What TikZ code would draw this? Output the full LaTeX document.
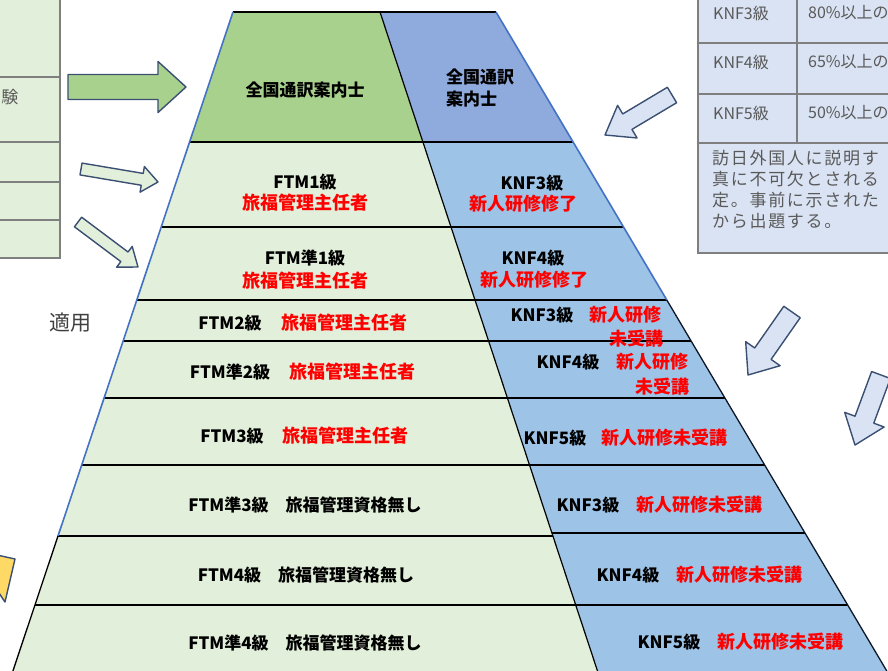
\documentclass[tikz,border=0pt]{standalone}
\usepackage{fontspec}
\setmainfont{Noto Sans CJK JP}
\usetikzlibrary{calc}
\definecolor{gTop}{HTML}{A9D18E}
\definecolor{bTop}{HTML}{8FAADC}
\definecolor{gLight}{HTML}{E2EFDA}
\definecolor{bLight}{HTML}{9DC3E6}
\definecolor{tblBlue}{HTML}{DAE3F3}
\definecolor{arrLine}{HTML}{3A4F72}
\definecolor{edgeBlue}{HTML}{4472C4}
\definecolor{txtGray}{HTML}{595959}
\definecolor{lineGray}{HTML}{7F7F7F}
\definecolor{yel}{HTML}{FFD966}
\newcommand{\blkarrow}[6]{%
  \coordinate (hb) at ($(#2)!#5!(#1)$);
  \path[#6] ($(#1)!#3!90:(#2)$) -- ($(hb)!#3!-90:(#1)$) -- ($(hb)!#4!-90:(#1)$) -- (#2)
    -- ($(hb)!#4!90:(#1)$) -- ($(hb)!#3!90:(#1)$) -- ($(#1)!#3!-90:(#2)$) -- cycle;}
\tikzset{
  lbl/.style={font=\fontsize{17}{20}\selectfont\bfseries, text=black, inner sep=0pt},
  redlbl/.style={font=\fontsize{18}{21}\selectfont\bfseries, text=red, inner sep=0pt},
  tbltxt/.style={font=\fontsize{16}{19}\selectfont, text=txtGray, inner sep=0pt},
  arrowbox/.style={draw=arrLine, line width=1.4pt, line join=round},
  rowline/.style={draw=black, line width=1.3pt},
  tblline/.style={draw=lineGray, line width=2pt}
}
\begin{document}
\begin{tikzpicture}[x=1pt,y=-1pt]
\useasboundingbox (0,0) rectangle (888,671);
\clip (0,0) rectangle (888,671);
% ---------- coordinates of the pyramid ----------
\foreach \n/\yg/\yb/\l/\e/\d/\r in {
  0/12/12/233/380/380/496,
  1/142/142/189.6/422.9/422.9/573.1,
  2/227/227/161.2/451/451/623.5,
  3/300/300/136.8/475/475/666.8,
  4/341/341/123.1/488.6/488.6/691.1,
  5/398/398/104.1/507.4/507.4/724.9,
  6/465/465/81.7/529.5/529.5/764.6,
  7/536/533/58/552.9/551.9/805,
  8/605/605/34.9/575.7/575.7/847.6,
  9/671/671/12.9/597.5/597.5/886.8}{
  \coordinate (L\n) at (\l,\yg);
  \coordinate (E\n) at (\e,\yg);
  \coordinate (D\n) at (\d,\yb);
  \coordinate (R\n) at (\r,\yb);
}
% fills
\fill[gTop] (L0) -- (E0) -- (E1) -- (L1) -- cycle;
\fill[bTop] (D0) -- (R0) -- (R1) -- (D1) -- cycle;
\foreach \a/\b in {1/2,2/3,3/4,4/5,5/6,6/7,7/8,8/9}{
  \fill[gLight] (L\a) -- (E\a) -- (E\b) -- (L\b) -- cycle;
  \fill[bLight] (D\a) -- (R\a) -- (R\b) -- (D\b) -- cycle;
}
% row lines
\foreach \a in {0,1,2,3,4,5,7}{
  \draw[rowline] (L\a) -- (E\a);
  \draw[rowline] (D\a) -- (R\a);
}
\draw[rowline, line width=1.8pt] (L8) -- (E8);
\draw[rowline, line width=2.2pt] (D8) -- (R8);
\draw[rowline, line width=2.2pt] (D5) -- (R5);
\draw[rowline, line width=2.8pt] (L6) -- (R6);
% divider
\draw[black, line width=1.2pt] (D0) -- (D1) -- (D2) -- (D3) -- (D4) -- (D5) -- (D6) -- (D7) -- (D8) -- (D9);
% outer edges
\draw[edgeBlue, line width=1.6pt] (L0) -- (L7);
\draw[black, line width=1.3pt] (L7) -- (L9);
\draw[edgeBlue, line width=1.6pt] (R0) -- (R3);
\draw[black!80!edgeBlue, line width=1.3pt] (R3) -- (R9);
% ---------- pyramid texts ----------
\node[lbl] (g0) at (305,90) {全国通訳案内士};
\node[lbl, align=left, anchor=west, font=\fontsize{17}{22}\selectfont\bfseries] (b0) at (446,88) {全国通訳\\案内士};
\node[lbl] (g1a) at (305,182) {FTM1級};
\node[redlbl] (g1b) at (305,203) {旅福管理主任者};
\node[lbl] (b1a) at (532,183) {KNF3級};
\node[redlbl] (b1b) at (523,204) {新人研修修了};
\node[lbl] (g2a) at (305,258) {FTM準1級};
\node[redlbl] (g2b) at (305,281) {旅福管理主任者};
\node[lbl] (b2a) at (533,258) {KNF4級};
\node[redlbl] (b2b) at (534,280) {新人研修修了};
\node[lbl] (g3a) at (230,323) {FTM2級};
\node[redlbl] (g3b) at (344,323) {旅福管理主任者};
\node[lbl] (b3a) at (542,315) {KNF3級};
\node[redlbl] (b3b) at (625,315) {新人研修};
\node[redlbl] (b3c) at (636,339) {未受講};
\node[lbl] (g4a) at (230,372) {FTM準2級};
\node[redlbl] (g4b) at (352,372) {旅福管理主任者};
\node[lbl] (b4a) at (568,362) {KNF4級};
\node[redlbl] (b4b) at (652,362) {新人研修};
\node[redlbl] (b4c) at (662,387) {未受講};
\node[lbl] (g5a) at (232,436) {FTM3級};
\node[redlbl] (g5b) at (345,436) {旅福管理主任者};
\node[lbl] (b5a) at (555,438) {KNF5級};
\node[redlbl] (b5b) at (664,438) {新人研修未受講};
\node[lbl] (g6) at (305,505) {FTM準3級　旅福管理資格無し};
\node[lbl] (g7) at (306,575) {FTM4級　旅福管理資格無し};
\node[lbl] (g8) at (305,643) {FTM準4級　旅福管理資格無し};
\node[lbl] (b6a) at (588,505) {KNF3級};
\node[redlbl] (b6b) at (699,505) {新人研修未受講};
\node[lbl] (b7a) at (628,575) {KNF4級};
\node[redlbl] (b7b) at (739,575) {新人研修未受講};
\node[lbl] (b8a) at (669,642) {KNF5級};
\node[redlbl] (b8b) at (780,642) {新人研修未受講};
% ---------- left table ----------
\fill[gLight] (-2,-2) rectangle (60,258);
\draw[tblline] (60,-2) -- (60,258) -- (-2,258);
\foreach \y in {77,142,182,220}{ \draw[tblline] (-2,\y) -- (60,\y); }
\node[tbltxt, font=\fontsize{17}{20}\selectfont] (ken) at (10,97) {験};
\node[font=\fontsize{21}{24}\selectfont, text=black!75, inner sep=0pt] (tekiyo) at (70,323) {適用};
% ---------- right table ----------
\fill[tblBlue] (698,-2) rectangle (890,253);
\draw[tblline] (698,-2) -- (698,253) -- (890,253);
\foreach \y in {43,94,143}{ \draw[tblline] (698,\y) -- (890,\y); }
\draw[tblline] (797,-2) -- (797,143);
\node[tbltxt] (k3) at (741,13) {KNF3級};
\node[tbltxt, anchor=west] (p3) at (808,13) {80\%以上の};
\node[tbltxt] (k4) at (741,62) {KNF4級};
\node[tbltxt, anchor=west] (p4) at (808,62) {65\%以上の};
\node[tbltxt] (k5) at (741,113) {KNF5級};
\node[tbltxt, anchor=west] (p5) at (808,113) {50\%以上の};
\node[tbltxt, anchor=north west, align=left, font=\fontsize{17}{21}\selectfont\addfontfeature{LetterSpace=10}] (para) at (712,150)
  {訪日外国人に説明す\\真に不可欠とされる\\定。事前に示された\\から出題する。};
% ---------- block arrows ----------
\coordinate (a1t) at (68,87);   \coordinate (a1h) at (186,87);
\coordinate (a2t) at (81,169);  \coordinate (a2h) at (158,182);
\coordinate (a3t) at (78,222);  \coordinate (a3h) at (138,267);
\coordinate (a4t) at (672,95);  \coordinate (a4h) at (605,135);
\coordinate (a5t) at (792,312); \coordinate (a5h) at (748,375);
\coordinate (a6t) at (881,375); \coordinate (a6h) at (855,445);
\blkarrow{a1t}{a1h}{12.5pt}{25.5pt}{28pt}{arrowbox, fill=gTop}
\blkarrow{a2t}{a2h}{6pt}{13pt}{16pt}{arrowbox, fill=gLight}
\blkarrow{a3t}{a3h}{6pt}{13pt}{17pt}{arrowbox, fill=gLight}
\blkarrow{a4t}{a4h}{9pt}{19pt}{26pt}{arrowbox, fill=tblBlue}
\blkarrow{a5t}{a5h}{10pt}{21pt}{26pt}{arrowbox, fill=tblBlue}
\blkarrow{a6t}{a6h}{10pt}{21pt}{27pt}{arrowbox, fill=tblBlue}
% yellow partial shape
\path[arrowbox, fill=yel] (-3,555) -- (15,559) -- (5,602) -- (-3,590) -- cycle;
\end{tikzpicture}
\end{document}
